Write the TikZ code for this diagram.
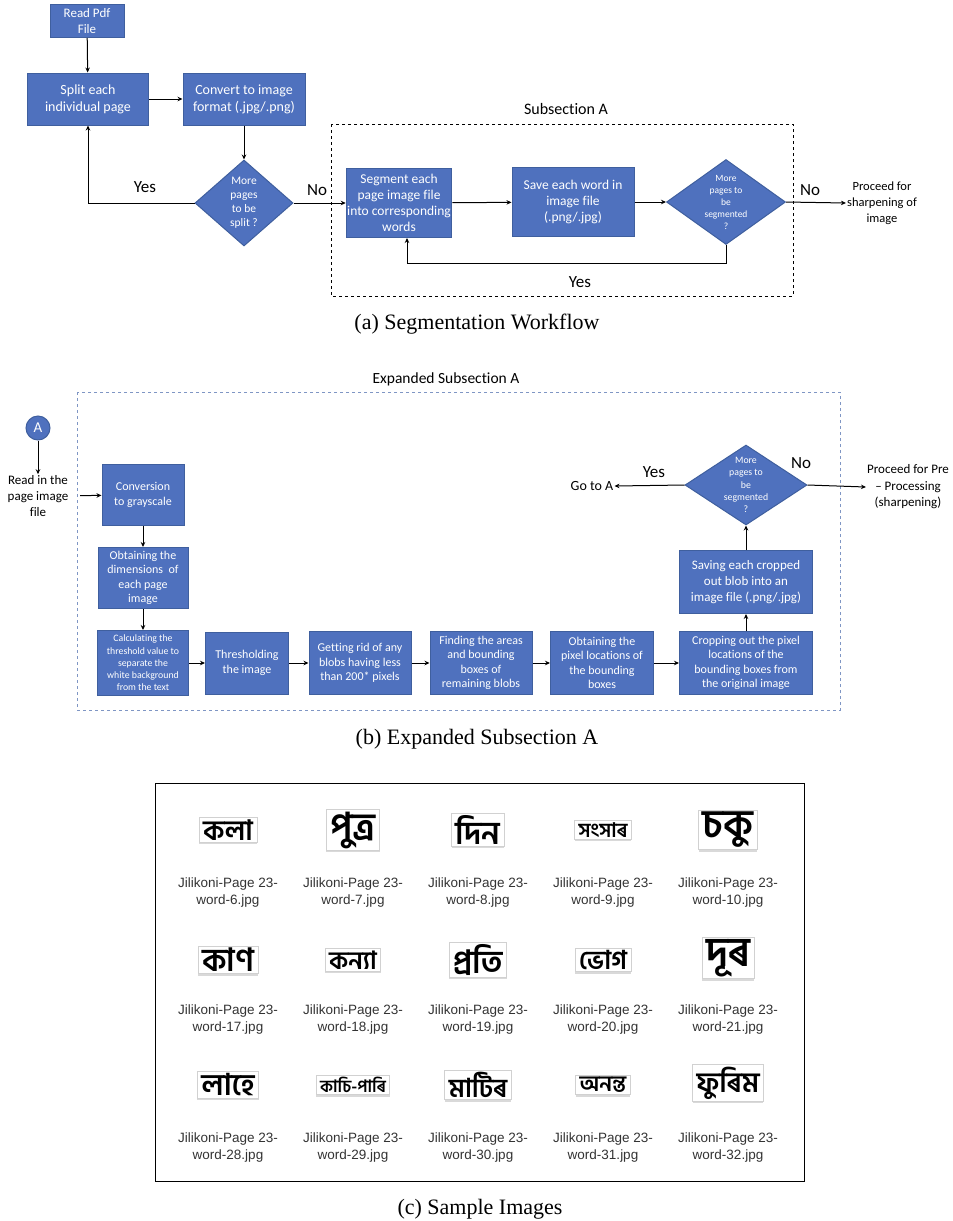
\documentclass[tikz,border=0pt]{standalone}
\usepackage{fontspec}
\setmainfont{Liberation Serif}
\newfontfamily\calibri[Ligatures=NoCommon]{Carlito}
\newfontfamily\helv{Liberation Sans}
\newfontfamily\beng[Script=Bengali]{Hind Siliguri}
\usetikzlibrary{shapes.geometric,arrows.meta,shadows}
\definecolor{boxblue}{HTML}{4F71BE}
\definecolor{boxedge}{HTML}{3F5F9E}
\definecolor{dashblue}{HTML}{7F96C4}
\newcommand\fsz[2]{\fontsize{#1}{#2}\selectfont}
\tikzset{
  procbox/.style={draw=boxedge, line width=1pt, fill=boxblue, text=white, align=center, inner sep=1pt, font=\calibri},
  decision/.style={diamond, draw=boxedge, line width=1pt, fill=boxblue, inner sep=0pt},
  dtext/.style={text=white, align=center, inner sep=0pt, font=\calibri},
  plain/.style={align=center, inner sep=1pt, font=\calibri},
  flow/.style={-{Stealth[length=5pt,width=4.5pt]}, line width=1pt},
  wordimg/.style={draw=black!18, fill=white, inner xsep=4pt, inner ysep=2pt, line width=.8pt,
    drop shadow={shadow xshift=0pt, shadow yshift=-1.8pt, opacity=.3}},
  filename/.style={align=center, inner sep=0pt, font={\helv\fsz{13.5}{17}}, text=black!80},
  caption/.style={inner sep=0pt, font={\fsz{22}{26}}}
}

\begin{document}
\begin{tikzpicture}[x=1pt,y=-1pt]
  \useasboundingbox (0,0) rectangle (953,1221);

  % (a) segmentation workflow
  \node[procbox, minimum width=74pt, minimum height=33pt, font={\calibri\fsz{13}{16}}] (read) at (87,21) {Read Pdf\\File};
  \node[procbox, minimum width=121pt, minimum height=52pt, font={\calibri\fsz{14}{17}}] (split) at (88,99) {Split each\\individual page};
  \node[procbox, minimum width=122pt, minimum height=52pt, font={\calibri\fsz{14}{17}}] (conv) at (244,99) {Convert to image\\format (.jpg/.png)};
  \node[decision, minimum width=98pt, minimum height=86pt,
    label={[dtext, font={\calibri\fsz{11.5}{14}}]center:{More\\pages\\to be\\split ?}}] (split?) at (244,203) {};
  \node[plain, font={\calibri\fsz{17}{20}}] (yes1) at (145,187) {Yes};
  \node[plain, font={\calibri\fsz{17}{20}}] (no1) at (317,190) {No};

  \draw[dashed, line width=1pt] (331,124) rectangle (793,296);
  \node[plain, font={\calibri\fsz{16}{19}}] (subA) at (566,109) {Subsection A};
  \node[procbox, minimum width=104pt, minimum height=69pt, font={\calibri\fsz{13.5}{16}}] (seg) at (399,203) {Segment each\\page image file\\into corresponding\\words};
  \node[procbox, minimum width=122pt, minimum height=69pt, font={\calibri\fsz{13.5}{16}}] (save) at (573,202) {Save each word in\\image file\\(.png/.jpg)};
  \node[decision, minimum width=119pt, minimum height=85pt,
    label={[dtext, font={\calibri\fsz{9.5}{12}}]center:{More\\pages to\\be\\segmented\\?}}] (seg?) at (726,202) {};
  \node[plain, font={\calibri\fsz{17}{20}}] (no2) at (810,190) {No};
  \node[plain, font={\calibri\fsz{17}{20}}] (yes2) at (580,282) {Yes};
  \node[plain, font={\calibri\fsz{12.5}{16}}] (sharp) at (882,203) {Proceed for\\sharpening of\\image};

  \draw[flow] (read) -- (split);
  \draw[flow] (split) -- (conv);
  \draw[flow] (conv) -- (split?);
  \draw[flow] (split?.west) -| (split.south);
  \draw[flow] (split?.east) -- (seg.west);
  \draw[flow] (seg) -- (save);
  \draw[flow] (save) -- (seg?);
  \draw[flow] (seg?.south) -- ++(0,18) -| ([xshift=8pt]seg.south);
  \draw[flow] (seg?.east) -- (sharp.west);

  \node[caption] (capa) at (477,324) {(a) Segmentation Workflow};

  % (b) expanded subsection A
  \draw[dashed, dashblue, line width=1pt] (77,392) rectangle (840,710);
  \node[plain, font={\calibri\fsz{15.5}{19}}] (expA) at (446,379) {Expanded Subsection A};
  \node[circle, draw=boxedge, line width=1pt, fill=boxblue, text=white, minimum size=24pt, inner sep=0pt, font={\calibri\fsz{15}{15}}] (A) at (38,428) {A};
  \node[plain, minimum width=84pt, font={\calibri\fsz{13}{16}}] (readpg) at (38,496) {Read in the\\page image\\file};
  \node[procbox, minimum width=82pt, minimum height=61pt, font={\calibri\fsz{12}{14.5}}] (gray) at (143,495) {Conversion\\to grayscale};
  \node[procbox, minimum width=90pt, minimum height=61pt, font={\calibri\fsz{12}{14.5}}] (dims) at (143,578) {Obtaining the\\dimensions~ of\\each page\\image};
  \node[procbox, minimum width=91pt, minimum height=65pt, font={\calibri\fsz{9.8}{12.2}}] (calc) at (143,663) {Calculating the\\threshold value to\\separate the\\white background\\from the text};
  \node[procbox, minimum width=83pt, minimum height=62pt, font={\calibri\fsz{12}{14.5}}] (thr) at (247,663) {Thresholding\\the image};
  \node[procbox, minimum width=102pt, minimum height=63pt, font={\calibri\fsz{12}{14.5}}] (blobs) at (360,663) {Getting rid of any\\blobs having less\\than 200* pixels};
  \node[procbox, minimum width=102pt, minimum height=63pt, font={\calibri\fsz{12}{14.5}}] (areas) at (481,663) {Finding the areas\\and bounding\\boxes of\\remaining blobs};
  \node[procbox, minimum width=103pt, minimum height=63pt, font={\calibri\fsz{12}{14.5}}] (pix) at (602,663) {Obtaining the\\pixel locations of\\the bounding\\boxes};
  \node[procbox, minimum width=133pt, minimum height=63pt, font={\calibri\fsz{12}{14.5}}] (crop) at (746,663) {Cropping out the pixel\\locations of the\\bounding boxes from\\the original image};
  \node[procbox, minimum width=133pt, minimum height=63pt, font={\calibri\fsz{13}{16}}] (store) at (746,582) {Saving each cropped\\out blob into an\\image file (.png/.jpg)};
  \node[decision, minimum width=122pt, minimum height=80pt,
    label={[dtext, font={\calibri\fsz{9.8}{12.2}}]center:{More\\pages to\\be\\segmented\\?}}] (more?) at (746,485) {};
  \node[plain, font={\calibri\fsz{14}{17}}] (gotoA) at (592,486) {Go to A};
  \node[plain, font={\calibri\fsz{17}{20}}] (yes3) at (654,472) {Yes};
  \node[plain, font={\calibri\fsz{17}{20}}] (no3) at (801,463) {No};
  \node[plain, font={\calibri\fsz{13}{16.5}}] (prepro) at (908,487) {Proceed for Pre\\– Processing\\(sharpening)};

  \draw[flow] (A) -- (readpg);
  \draw[flow] (readpg) -- (gray);
  \draw[flow] (gray) -- (dims);
  \draw[flow] (dims) -- (calc);
  \draw[flow] (calc) -- (thr);
  \draw[flow] (thr) -- (blobs);
  \draw[flow] (blobs) -- (areas);
  \draw[flow] (areas) -- (pix);
  \draw[flow] (pix) -- (crop);
  \draw[flow] (crop) -- (store);
  \draw[flow] (store) -- (more?);
  \draw[flow] (more?.west) -- (gotoA.east);
  \draw[flow] (more?.east) -- (prepro.west);

  \node[caption] (capb) at (477,739) {(b) Expanded Subsection A};

  % (c) sample images
  \draw[line width=1pt] (155,783) rectangle (804,1181);
  \foreach \cx/\cy/\ly/\wsz/\word/\num in {
      228/830/892/28/কলা/6, 353/830/892/37/পুত্র/7, 478/830/892/32/দিন/8, 603/830/892/20/সংসাৰ/9, 728/830/892/39/চকু/10,
      228/960/1019/32/কাণ/17, 353/960/1019/25/কন্যা/18, 478/960/1019/32/প্রতি/19, 603/960/1019/26/ভোগ/20, 728/958/1019/41/দূৰ/21,
      228/1085/1147/30/লাহে/28, 353/1085/1147/17/কাচি-পাৰি/29, 478/1085/1147/26/মাটিৰ/30, 603/1085/1147/22/অনন্ত/31, 728/1083/1147/28/ফুৰিম/32}
  {
    \node[wordimg, font={\beng\bfseries\fsz{\wsz}{\wsz}}] (w\num) at (\cx,\cy) {\word};
    \node[filename] (f\num) at (\cx,\ly) {Jilikoni-Page 23-\\word-\num.jpg};
  }
  \node[caption] (capc) at (480,1209) {(c) Sample Images};
\end{tikzpicture}
\end{document}
